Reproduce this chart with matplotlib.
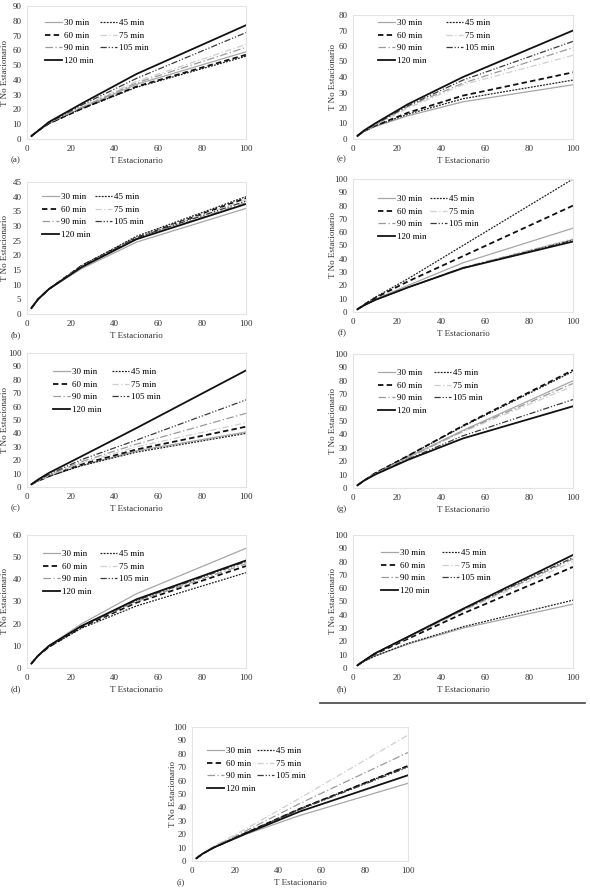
import matplotlib
matplotlib.use("Agg")
import matplotlib.pyplot as plt
from matplotlib.lines import Line2D

plt.rcParams['font.family'] = ['Liberation Serif', 'DejaVu Serif']

# return periods (x) and durations (series)
T_est = [2, 5, 10, 25, 50, 100]
durations = ["30 min", "45 min", "60 min", "75 min", "90 min", "105 min", "120 min"]

# one row per duration, order as in durations
vals_a = [[2, 5.5, 10.5, 21, 37, 59],
          [2, 5.5, 10.5, 20.5, 35, 56],
          [2, 5.5, 10.5, 20.5, 35.5, 57],
          [2, 5.5, 11, 22, 39, 64],
          [2, 5.5, 11, 21.5, 38, 62],
          [2, 5.5, 11, 23, 41, 72],
          [2, 5.5, 11.5, 24, 44, 77]]
vals_b = [[2, 5, 8.5, 15.5, 24.5, 36],
          [2, 5, 8.5, 16.5, 26.5, 40],
          [2, 5, 8.5, 16.5, 26, 39.5],
          [2, 5, 8.5, 16.3, 26, 39],
          [2, 5, 8.5, 16, 25.5, 38],
          [2, 5, 8.5, 16.3, 26, 38.5],
          [2, 5, 8.5, 16, 25.5, 37.5]]
vals_c = [[2, 4.5, 8, 16, 27, 41],
          [2, 4.5, 8, 16, 26, 40],
          [2, 4.5, 8, 17, 28, 45],
          [2, 4.5, 8.5, 18, 30, 48],
          [2, 5, 9, 19, 32, 55],
          [2, 5, 9.5, 20.5, 35, 65],
          [2, 5.5, 10.5, 23, 44, 87]]
vals_d = [[2, 5.5, 10, 20, 33.5, 54],
          [2, 5.5, 9.5, 18, 28, 43],
          [2, 5.5, 9.5, 18.5, 29.5, 46],
          [2, 5.5, 10, 19, 30.5, 48],
          [2, 5.5, 10, 19, 30, 47],
          [2, 5.5, 10, 19, 30.5, 48],
          [2, 5.5, 10, 19, 31, 48.5]]
vals_e = [[2, 5, 8, 15, 24, 35],
          [2, 5, 8.5, 16, 26, 38],
          [2, 5, 8.5, 17, 28, 43],
          [2, 5, 9, 20, 35, 54],
          [2, 5, 9, 21, 36, 59],
          [2, 5, 9.5, 21.5, 38, 63],
          [2, 5.5, 10, 22.5, 40, 70]]
vals_f = [[2, 5, 9.5, 20, 37, 63],
          [2, 5.5, 11, 25, 50, 100],
          [2, 5.5, 10.5, 23, 42, 80],
          [2, 5, 9, 18.5, 33.5, 55],
          [2, 5, 9, 18.5, 33.5, 54.5],
          [2, 5, 9, 18.5, 33, 54],
          [2, 5, 9, 18.5, 33, 53]]
vals_g = [[2, 5.5, 10.5, 23, 43, 80],
          [2, 5.5, 11, 24, 46, 87],
          [2, 5.5, 11, 24, 46.5, 88],
          [2, 5.5, 10.5, 22.5, 42, 76],
          [2, 5.5, 10.5, 22.5, 42.5, 78],
          [2, 5.5, 10, 21.5, 39, 66],
          [2, 5.5, 10, 21, 37, 61]]
vals_h = [[2, 5, 9, 18, 30, 48],
          [2, 5, 9, 18.5, 31, 51],
          [2, 5.5, 10.5, 22, 41, 76],
          [2, 5.5, 11, 23, 43, 80],
          [2, 5.5, 11, 23, 43.5, 82],
          [2, 5.5, 11, 23.5, 44, 83],
          [2, 5.5, 11, 23.5, 44.5, 85]]
vals_i = [[2, 5.5, 10, 20, 34, 58],
          [2, 5.5, 10, 21, 39, 71],
          [2, 5.5, 10, 21, 39, 71],
          [2, 5.5, 11, 24, 47, 94],
          [2, 5.5, 10.5, 22.5, 43, 81],
          [2, 5.5, 10, 21, 38.5, 70],
          [2, 5.5, 10, 20.5, 37, 64]]

panel_tags = ["(a)", "(b)", "(c)", "(d)", "(e)", "(f)", "(g)", "(h)", "(i)"]
panel_vals = [vals_a, vals_b, vals_c, vals_d, vals_e, vals_f, vals_g, vals_h, vals_i]
y_max = [90, 45, 100, 60, 80, 100, 100, 100, 100]
y_step = [10, 5, 10, 10, 10, 10, 10, 10, 10]

# line look for each duration
styles = [dict(color="#a6a6a6", lw=0.9, ls="-"),
          dict(color="#222222", lw=0.9, ls=(0, (1.5, 1))),
          dict(color="#111111", lw=1.3, ls=(0, (3, 1.8))),
          dict(color="#cfcfcf", lw=0.9, ls=(0, (5, 2, 1, 2))),
          dict(color="#9a9a9a", lw=0.9, ls=(0, (6, 2, 1, 2))),
          dict(color="#3a3a3a", lw=0.9, ls=(0, (5, 1.5, 1, 1.5, 1, 1.5))),
          dict(color="#111111", lw=1.3, ls="-")]

# pixel boxes (left, top, right, bottom) of each plot area
W, H = 590, 890
boxes = [(27, 6, 246, 139), (27, 182, 246, 314), (27, 353, 246, 487), (27, 535, 246, 668),
         (353, 15, 573, 139), (353, 179, 573, 312), (353, 354, 573, 488), (353, 535, 573, 668),
         (192, 727, 408, 861)]
# legend: first handle left / first row centre (px), and column gap
legend_at = [(45, 22), (42, 196), (53, 371), (43, 553),
             (378, 22), (378, 198), (378, 372), (381, 552), (207, 750)]
col_gap = [0.7, 0.5, 1.2, 0.9, 2.2, 0.4, 0.8, 1.4, 0.2]
ylab_x = [5, 5, 5, 5, 333, 333, 333, 333, 173]

fig = plt.figure(figsize=(W / 100, H / 100), dpi=100)

for k in range(9):
    l, t, r, b = boxes[k]
    ax = fig.add_axes([l / W, 1 - b / H, (r - l) / W, (b - t) / H])
    handles = []
    for j in range(7):
        st = styles[j]
        ln, = ax.plot(T_est, panel_vals[k][j], color=st["color"], lw=st["lw"],
                      linestyle=st["ls"], label=durations[j])
        handles.append(ln)
    ax.set_xlim(0, 100)
    ax.set_ylim(0, y_max[k])
    ax.set_xticks(range(0, 101, 20))
    ax.set_yticks(range(0, y_max[k] + 1, y_step[k]))
    ax.tick_params(length=0, labelsize=6.5, pad=4, colors="#333333")
    for sp in ax.spines.values():
        sp.set_color("#e3e3e3")
        sp.set_linewidth(0.8)
    ax.set_xlabel("T Estacionario", fontsize=6.5, labelpad=3, color="#333333")
    ax.set_ylabel("T No Estacionario", fontsize=6.5, color="#333333", va="center")
    ax.yaxis.set_label_coords((ylab_x[k] - l) / (r - l), 0.5)
    # row-wise legend: 30/45, 60/75, 90/105, 120
    order = [0, 2, 4, 6, 1, 3, 5]
    hx, ry = legend_at[k]
    ax.legend([handles[o] for o in order], [durations[o] for o in order],
              ncol=2, loc="upper left",
              bbox_to_anchor=((hx - 3.6 - l) / (r - l), 1 - (ry - 6.7 - t) / (b - t)),
              frameon=False, fontsize=6.5, handlelength=1.9, handletextpad=0.2,
              columnspacing=col_gap[k], labelspacing=0.47, borderaxespad=0)
    ax.text(-0.05, -0.16, panel_tags[k], transform=ax.transAxes, fontsize=6.5,
            ha="center", va="center", color="#333333")

# rule under panel (h)
fig.add_artist(Line2D([320 / W, 585 / W], [1 - 703 / H, 1 - 703 / H], color="#444444", lw=1.2))

fig.savefig("out.png", dpi=100, facecolor="white")
